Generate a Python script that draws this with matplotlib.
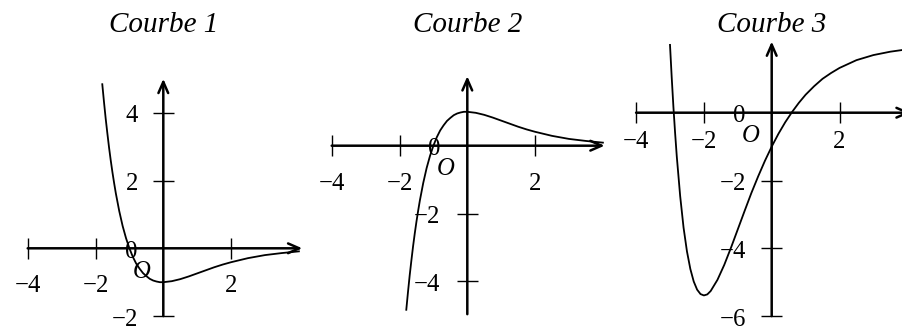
import matplotlib
matplotlib.use("Agg")
import matplotlib.pyplot as plt

# ---- data ----
titles = ["Courbe 1", "Courbe 2", "Courbe 3"]

x1 = [-1.8, -1.75, -1.7, -1.65, -1.6, -1.55, -1.5, -1.45, -1.4, -1.3, -1.2, -1.1, -1.0, -0.9, -0.8,
      -0.7, -0.6, -0.5, -0.4, -0.3, -0.2, -0.1, 0.0, 0.25, 0.5, 0.75, 1.0, 1.25, 1.5,
      1.75, 2.0, 2.5, 3.0, 3.5, 4.0]
y1 = [4.84, 4.32, 3.83, 3.39, 2.97, 2.59, 2.24, 1.92, 1.62, 1.10, 0.66, 0.30, 0.0, -0.25, -0.45,
      -0.60, -0.73, -0.82, -0.90, -0.95, -0.98, -1.0, -1.0, -0.97, -0.91, -0.83, -0.74, -0.65, -0.56,
      -0.48, -0.41, -0.29, -0.20, -0.14, -0.09]

x2 = [-1.8, -1.75, -1.7, -1.65, -1.6, -1.55, -1.5, -1.45, -1.4, -1.3, -1.2, -1.1, -1.0, -0.9, -0.8,
      -0.7, -0.6, -0.5, -0.4, -0.3, -0.2, -0.1, 0.0, 0.25, 0.5, 0.75, 1.0, 1.25, 1.5,
      1.75, 2.0, 2.5, 3.0, 3.5, 4.0]
y2 = [-4.84, -4.32, -3.83, -3.39, -2.97, -2.59, -2.24, -1.92, -1.62, -1.10, -0.66, -0.30, 0.0, 0.25, 0.45,
      0.60, 0.73, 0.82, 0.90, 0.95, 0.98, 1.0, 1.0, 0.97, 0.91, 0.83, 0.74, 0.65, 0.56,
      0.48, 0.41, 0.29, 0.20, 0.14, 0.09]

x3 = [-3.0, -2.95, -2.9, -2.85, -2.8, -2.7, -2.6, -2.5, -2.4, -2.3, -2.2, -2.1, -2.0, -1.9, -1.8,
      -1.6, -1.4, -1.2, -1.0, -0.8, -0.6, -0.4, -0.2, 0.0, 0.2, 0.4, 0.6, 0.8, 1.0, 1.25, 1.5,
      1.75, 2.0, 2.5, 3.0, 3.5, 4.0]
y3 = [2.0, 1.05, 0.18, -0.59, -1.29, -2.46, -3.39, -4.09, -4.61, -4.98, -5.22, -5.35, -5.39, -5.36, -5.26,
      -4.93, -4.49, -3.98, -3.44, -2.90, -2.37, -1.88, -1.42, -1.0, -0.62, -0.28, 0.02, 0.29, 0.53, 0.78, 1.0,
      1.17, 1.32, 1.55, 1.70, 1.80, 1.87]

xticks = [[-4, -2, 2], [-4, -2, 2], [-4, -2, 2]]
yticks = [[-2, 2, 4], [-4, -2], [-6, -4, -2]]
ylabels = [[4, 2, 0, -2], [0, -2, -4], [0, -2, -4, -6]]
xaxis_range = [(-4, 4.1), (-4, 4.05), (-4, 4.1)]
yaxis_range = [(-2, 5.0), (-4.97, 2.05), (-6, 2.1)]
curves = [(x1, y1), (x2, y2), (x3, y3)]

# ---- layout (pixel geometry of the reference) ----
W, H = 902, 329
S = 33.9  # pixels per unit
origins = [(163.3, 248.3), (467.3, 145.7), (771.7, 112.7)]
xlab_base = [-1.28, -1.31, -1.05]
ylab_right = [-0.75, -0.80, -0.76]

FONT = "Liberation Serif"
TICK_FS = 17.8
TITLE_FS = 21

fig = plt.figure(figsize=(W / 100, H / 100), dpi=100)

def fmt(v):
    return str(v).replace("-", "\u2212")

for i in range(3):
    ox, oy = origins[i]
    ax = fig.add_axes([0, 0, 1, 1], label=f"panel{i}")
    ax.set_xlim(-ox / S, (W - ox) / S)
    ax.set_ylim((oy - H) / S, oy / S)
    ax.set_facecolor("none")
    ax.axis("off")

    # axes with arrows
    x0, x1e = xaxis_range[i]
    y0, y1e = yaxis_range[i]
    ap = dict(arrowstyle="->,head_length=0.8,head_width=0.35", lw=1.8, color="black",
              shrinkA=0, shrinkB=0)
    ax.annotate("", xy=(x1e, 0), xytext=(x0, 0), arrowprops=ap, annotation_clip=False)
    ax.annotate("", xy=(0, y1e), xytext=(0, y0), arrowprops=ap, annotation_clip=False)

    # ticks
    for t in xticks[i]:
        ax.plot([t, t], [-0.31, 0.31], color="black", lw=1.0, solid_capstyle="butt")
    for t in yticks[i]:
        ax.plot([-0.31, 0.31], [t, t], color="black", lw=1.0, solid_capstyle="butt")

    # tick labels
    for t in xticks[i]:
        ax.text(t, xlab_base[i], fmt(t), ha="center", va="baseline",
                fontsize=TICK_FS, family=FONT)
    for t in ylabels[i]:
        ax.text(ylab_right[i], t - 0.28, fmt(t), ha="right", va="baseline",
                fontsize=TICK_FS, family=FONT)
    ax.text(-0.89, -0.87, "O", ha="left", va="baseline", fontsize=TICK_FS,
            family=FONT, style="italic")

    # curve
    cx, cy = curves[i]
    ax.plot(cx, cy, color="black", lw=1.3)

    # title
    ax.text(0, 1 - 31.5 / H, titles[i], ha="center", va="baseline",
            transform=ax.get_xaxis_transform(), fontsize=TITLE_FS, family=FONT,
            style="italic")

fig.savefig("out.png", dpi=100)
